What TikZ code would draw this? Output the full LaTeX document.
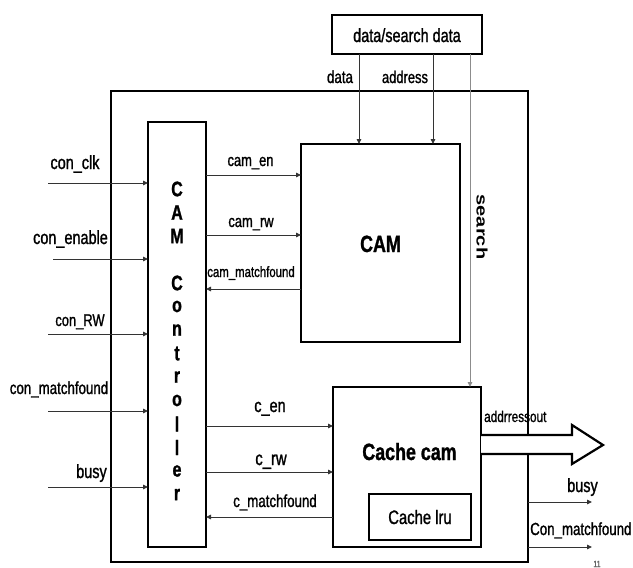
\documentclass[tikz,border=0pt]{standalone}
\usepackage{fontspec}
\setmainfont{Liberation Sans}[FakeStretch=0.76, FakeBold=1.2]
\newfontfamily\plainsans{Liberation Sans}
\usetikzlibrary{arrows.meta}
\newcommand{\fsz}[1]{\fontsize{#1}{#1}\selectfont}
\begin{document}
\begin{tikzpicture}[x=1pt,y=-1pt,
  box/.style={draw=black, line width=2.2pt, inner sep=0pt, outer sep=0pt},
  sig/.style={draw=black!80, line width=0.9pt, -{Triangle[length=5pt,width=4.5pt]}},
  lb/.style={anchor=base, inner sep=0pt},
  lbw/.style={anchor=base west, inner sep=0pt},
  title/.style={anchor=base, inner sep=0pt, font=\bfseries\fsz{23.5}}]
\useasboundingbox (0,0) rectangle (633,568);
% boxes
\node[box, minimum width=417pt, minimum height=471pt] (outer) at (319.5,326.5) {};
\node[box, minimum width=150pt, minimum height=39pt] (dbox) at (407,34.5) {};
\node[box, minimum width=58pt, minimum height=425pt] (ctrl) at (177,334.5) {};
\node[box, minimum width=159pt, minimum height=198pt] (cam) at (380.5,243) {};
\node[box, minimum width=148pt, minimum height=160pt] (cc) at (407,467) {};
\node[box, minimum width=102pt, minimum height=46pt] (lru) at (420,517) {};
% box texts
\node[lb, font=\fsz{19}] (dboxt) at (407,42) {data/search data};
\node[title] (camt) at (380.5,252) {CAM};
\node[title] (cct) at (409.5,460) {Cache cam};
\node[lb, font=\fsz{19.5}] (lrut) at (420,524) {Cache lru};
\foreach \l/\yy [count=\i] in {C/189,A/212.5,M/236,C/283,o/306.5,n/330,t/353.5,r/377,o/400.5,l/424,l/447.5,e/471,r/494.5}
  \node[inner sep=0pt, font=\bfseries\fsz{21}] (L\i) at (177,\yy) {\l};
% top inputs
\coordinate (xdata) at (359,0);
\coordinate (xaddr) at (433,0);
\coordinate (xsearch) at (470,0);
\draw[sig] (dbox.south -| xdata) -- (cam.north -| xdata);
\draw[sig] (dbox.south -| xaddr) -- (cam.north -| xaddr);
\draw[sig, draw=black!45] (dbox.south -| xsearch) -- (cc.north -| xsearch);
\node[lb, font=\fsz{17.5}] (ldata) at (340,83) {data};
\node[lb, font=\fsz{17}] (laddr) at (405,83) {address};
\node[inner sep=0pt, font=\plainsans\bfseries\fsz{20}, xscale=0.76, rotate=-90] (lsearch) at (482,227) {search};
% left inputs
\coordinate (iclk) at (48,183);
\coordinate (ien) at (53,259);
\coordinate (irw) at (48,334);
\coordinate (imf) at (48,411);
\coordinate (ibusy) at (48,487);
\draw[sig] (iclk) -- (ctrl.west |- iclk);
\draw[sig] (ien) -- (ctrl.west |- ien);
\draw[sig] (irw) -- (ctrl.west |- irw);
\draw[sig] (imf) -- (ctrl.west |- imf);
\draw[sig] (ibusy) -- (ctrl.west |- ibusy);
\node[lb, font=\fsz{19}] (lclk) at (75,169) {con\_clk};
\node[lb, font=\fsz{19}] (len) at (70.5,244) {con\_enable};
\node[lb, font=\fsz{17}] (lrw) at (80,326) {con\_RW};
\node[lb, font=\fsz{17.5}] (lmf) at (59,394) {con\_matchfound};
\node[lb, font=\fsz{19}] (lbusy) at (91.5,478) {busy};
% controller <-> CAM
\coordinate (ycamen) at (0,175);
\coordinate (ycamrw) at (0,235);
\coordinate (ycammf) at (0,289);
\draw[sig] (ctrl.east |- ycamen) -- (cam.west |- ycamen);
\draw[sig] (ctrl.east |- ycamrw) -- (cam.west |- ycamrw);
\draw[sig] (cam.west |- ycammf) -- (ctrl.east |- ycammf);
\node[lb, font=\fsz{17}] (lcamen) at (250.5,166) {cam\_en};
\node[lb, font=\fsz{17}] (lcamrw) at (251,227) {cam\_rw};
\node[lb, font=\fsz{15}] (lcammf) at (251,277) {cam\_matchfound};
% controller <-> Cache cam
\coordinate (ycen) at (0,426);
\coordinate (ycrw) at (0,472);
\coordinate (ycmf) at (0,517);
\draw[sig] (ctrl.east |- ycen) -- (cc.west |- ycen);
\draw[sig] (ctrl.east |- ycrw) -- (cc.west |- ycrw);
\draw[sig] (cc.west |- ycmf) -- (ctrl.east |- ycmf);
\node[lb, font=\fsz{19}] (lcen) at (270,412) {c\_en};
\node[lb, font=\fsz{19.5}] (lcrw) at (271,465) {c\_rw};
\node[lb, font=\fsz{17.5}] (lcmf) at (275,507) {c\_matchfound};
% big output arrow
\coordinate (a1) at (572,435);
\coordinate (a2) at (572,425);
\coordinate (tip) at (603,445);
\coordinate (a4) at (572,464);
\coordinate (a5) at (572,454);
\filldraw[draw=black, fill=white, line width=2.2pt] (cc.east |- a1) -- (a1) -- (a2) -- (tip) -- (a4) -- (a5) -- (cc.east |- a5);
\node[lbw, font=\fsz{15.5}] (laddrout) at (484,422) {addrressout};
% right outputs
\coordinate (obusy) at (592,502);
\coordinate (omf) at (592,547);
\draw[sig] (outer.east |- obusy) -- (obusy);
\draw[sig] (outer.east |- omf) -- (omf);
\node[lb, font=\fsz{19}] (lobusy) at (582.5,492) {busy};
\node[lbw, font=\fsz{17.5}] (lomf) at (530,535) {Con\_matchfound};
\node[lb, font=\fsz{9}, text=black!60] (pnum) at (597,567) {11};
\end{tikzpicture}
\end{document}
